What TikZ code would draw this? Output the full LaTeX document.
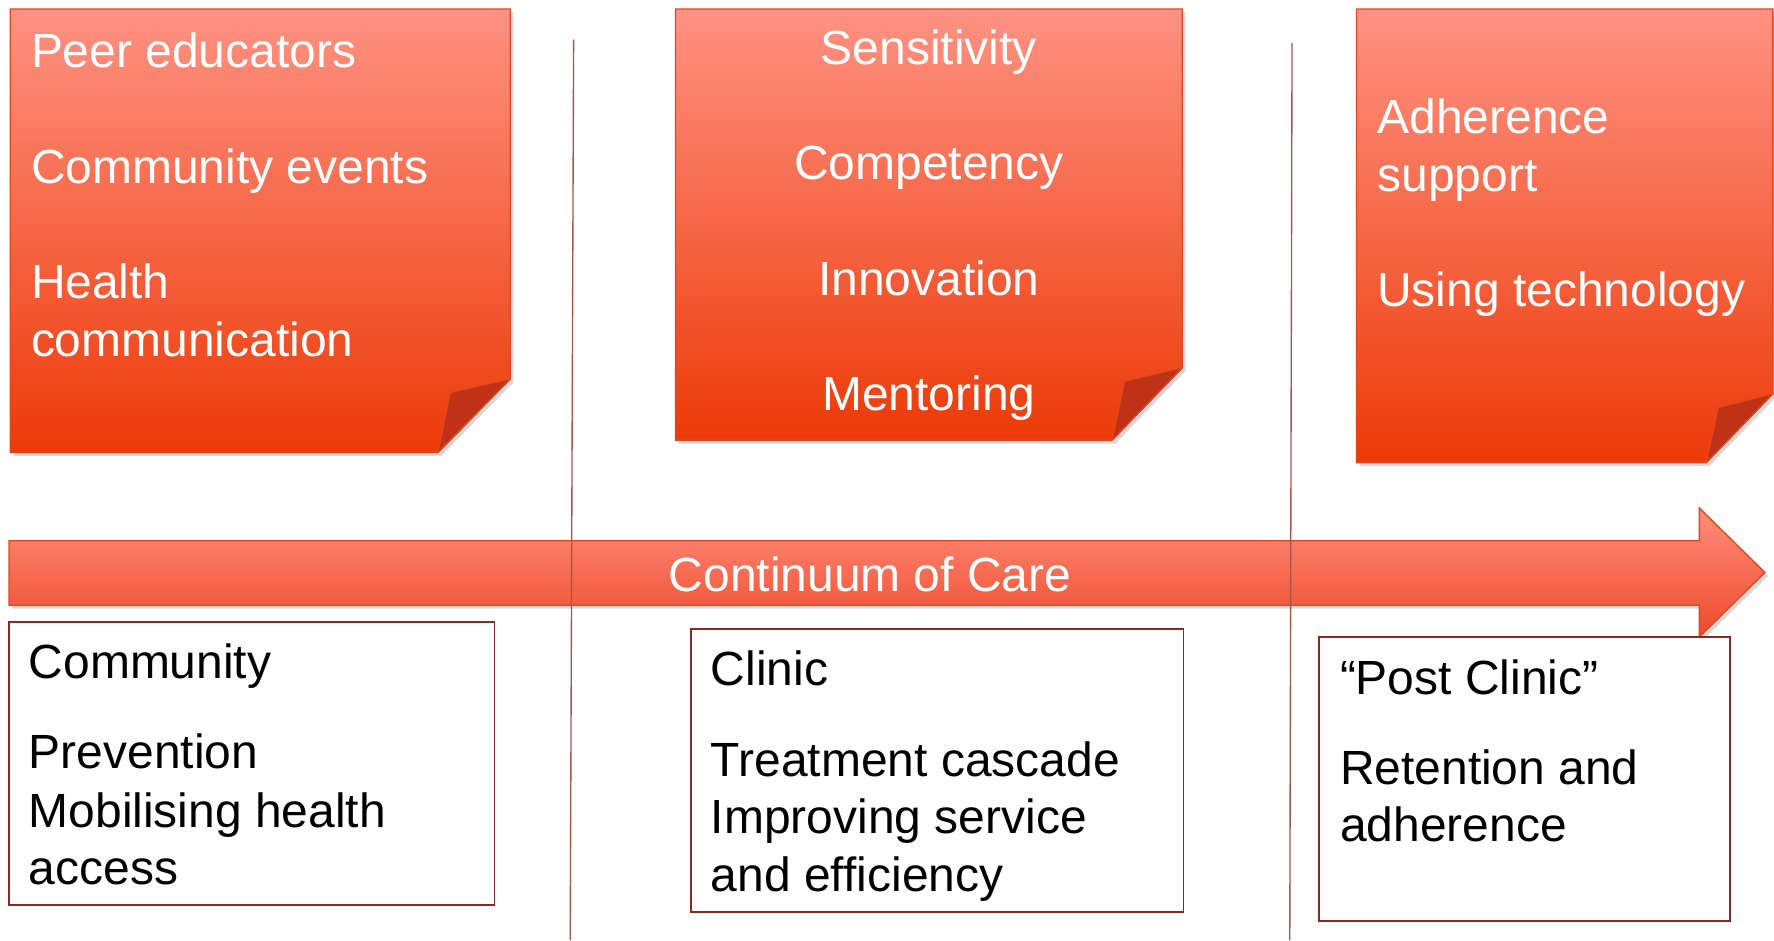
\documentclass[tikz,border=0pt]{standalone}
\usepackage{fontspec}
\setmainfont{Liberation Sans}
\usetikzlibrary{shadows}
\definecolor{noteTop}{RGB}{255,146,130}
\definecolor{noteBot}{RGB}{236,58,8}
\definecolor{noteBorder}{RGB}{222,72,32}
\definecolor{foldC}{RGB}{192,50,24}
\definecolor{arrowTop}{RGB}{255,142,124}
\definecolor{arrowBot}{RGB}{238,74,42}
\definecolor{boxBorder}{RGB}{140,40,35}
\definecolor{lineC}{RGB}{165,85,75}
\begin{document}
\begin{tikzpicture}[x=0.5pt,y=0.5pt,
  note/.style={draw=noteBorder, line width=0.6pt, top color=noteTop, bottom color=noteBot,
    drop shadow={shadow xshift=1.5pt, shadow yshift=-1.5pt, opacity=0.3}},
  fold/.style={fill=foldC, draw=noteBorder, line width=0.5pt, line join=round},
  bigarrow/.style={draw=noteBorder, line width=0.6pt, top color=arrowTop, bottom color=arrowBot,
    drop shadow={shadow xshift=1.5pt, shadow yshift=-1.5pt, opacity=0.3}},
  wtxt/.style={text=white, font=\fontsize{21.2}{25.5}\selectfont, inner sep=0pt},
  btxt/.style={text=black, font=\fontsize{21.2}{25.5}\selectfont, inner sep=0pt},
  infobox/.style={draw=boxBorder, line width=0.8pt, fill=white},
  vline/.style={draw=lineC, line width=0.6pt}]
\useasboundingbox (0,0) rectangle (1568,-831);

% sticky note 1
\path[note] (9,-8) -- (451,-8) -- (451,-335) -- (387,-400) -- (9,-400) -- cycle;
\path[fold] (451,-335) -- (398,-347) -- (387,-400) -- cycle;
% sticky note 2
\path[note] (597,-8) -- (1045,-8) -- (1045,-325) -- (983,-389) -- (597,-389) -- cycle;
\path[fold] (1045,-325) -- (994,-337) -- (983,-389) -- cycle;
% sticky note 3
\path[note] (1199,-8) -- (1567,-8) -- (1567,-348) -- (1508,-409) -- (1199,-409) -- cycle;
\path[fold] (1567,-348) -- (1519,-360) -- (1508,-409) -- cycle;

% note texts
\node[wtxt, anchor=base west] (n1a) at (27,-60) {Peer educators};
\node[wtxt, anchor=base west] (n1b) at (27,-162) {Community events};
\node[wtxt, anchor=base west] (n1c) at (27,-264) {Health};
\node[wtxt, anchor=base west] (n1d) at (27,-315) {communication};

\node[wtxt, anchor=base] (n2a) at (821,-57) {Sensitivity};
\node[wtxt, anchor=base] (n2b) at (821,-159) {Competency};
\node[wtxt, anchor=base] (n2c) at (821,-261) {Innovation};
\node[wtxt, anchor=base] (n2d) at (821,-363) {Mentoring};

\node[wtxt, anchor=base west] (n3a) at (1217,-118) {Adherence};
\node[wtxt, anchor=base west] (n3b) at (1217,-169) {support};
\node[wtxt, anchor=base west] (n3c) at (1217,-271) {Using technology};

% arrow
\path[bigarrow] (8,-478) -- (1502,-478) -- (1502,-449) -- (1560,-506) -- (1502,-563) -- (1502,-535) -- (8,-535) -- cycle;
\node[wtxt, anchor=base] (arr) at (769,-523) {Continuum of Care};

% bottom boxes
\path[infobox] (8,-550) rectangle (437,-800);
\node[btxt, anchor=base west] (b1a) at (25,-600) {Community};
\node[btxt, anchor=base west] (b1b) at (25,-679) {Prevention};
\node[btxt, anchor=base west] (b1c) at (25,-731) {Mobilising health};
\node[btxt, anchor=base west] (b1d) at (25,-782) {access};

\path[infobox] (611,-556) rectangle (1046,-806);
\node[btxt, anchor=base west] (b2a) at (628,-606) {Clinic};
\node[btxt, anchor=base west] (b2b) at (628,-686) {Treatment cascade};
\node[btxt, anchor=base west] (b2c) at (628,-737) {Improving service};
\node[btxt, anchor=base west] (b2d) at (628,-788) {and efficiency};

\path[infobox] (1166,-563) rectangle (1529,-814);
\node[btxt, anchor=base west] (b3a) at (1184,-614) {“Post Clinic”};
\node[btxt, anchor=base west] (b3b) at (1184,-693) {Retention and};
\node[btxt, anchor=base west] (b3c) at (1184,-744) {adherence};

% vertical dividers
\coordinate (v1t) at (507,-35);
\coordinate (v1b) at (504,-831);
\coordinate (v2t) at (1142,-38);
\coordinate (v2b) at (1140,-831);
\draw[vline] (v1t) -- (v1b);
\draw[vline] (v2t) -- (v2b);
\end{tikzpicture}
\end{document}
